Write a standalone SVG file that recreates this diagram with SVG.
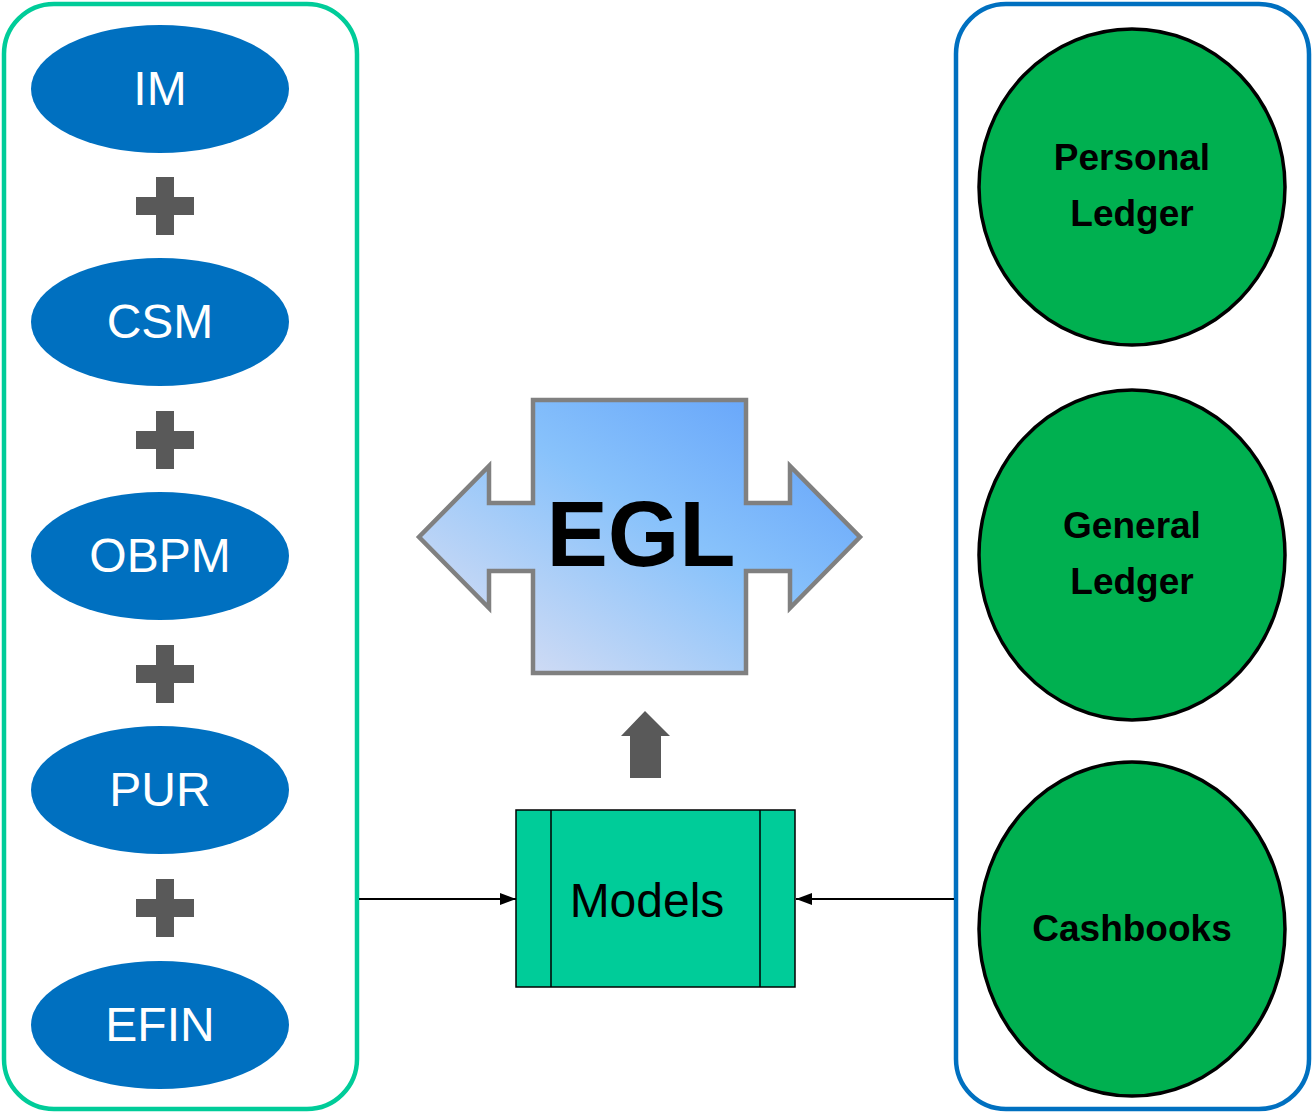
<svg xmlns="http://www.w3.org/2000/svg" width="1312" height="1112" viewBox="0 0 1312 1112">
<style>
.oval{fill:#0070c0}
.ot{font-family:"Liberation Sans",Arial,sans-serif;font-size:48px;fill:#fff;text-anchor:middle}
.plus{fill:#595959}
.circ{fill:#00b050;stroke:#000;stroke-width:3.5}
.ct{font-family:"Liberation Sans",Arial,sans-serif;font-size:37px;font-weight:bold;fill:#000;text-anchor:middle}
.conn{stroke:#000;stroke-width:2;fill:none;marker-end:url(#ah)}
</style>
<defs>
<marker id="ah" markerWidth="16" markerHeight="12" refX="16" refY="6" orient="auto" markerUnits="userSpaceOnUse">
<path d="M0,0 L16,6 L0,12 Z" fill="#000"/>
</marker>
<linearGradient id="eg" x1="0" y1="1" x2="1" y2="0">
<stop offset="0" stop-color="#e4e2f2"/>
<stop offset="0.55" stop-color="#88c2fb"/>
<stop offset="1" stop-color="#5d9dfa"/>
</linearGradient>
<path id="pl" d="M-9,-29 H9 V-9 H29 V9 H9 V29 H-9 V9 H-29 V-9 H-9 Z"/>
</defs>

<g id="left-container">
<rect x="4" y="4" width="353" height="1105" rx="50" ry="50" fill="none" stroke="#00cc99" stroke-width="4.5"/>
</g>
<g id="right-container">
<rect x="956" y="4" width="353" height="1105" rx="50" ry="50" fill="none" stroke="#0070c0" stroke-width="4.5"/>
</g>

<g id="IM"><ellipse class="oval" cx="160" cy="89" rx="129" ry="64"/><text class="ot" x="160" y="105">IM</text></g>
<g id="CSM"><ellipse class="oval" cx="160" cy="322" rx="129" ry="64"/><text class="ot" x="160" y="338">CSM</text></g>
<g id="OBPM"><ellipse class="oval" cx="160" cy="556" rx="129" ry="64"/><text class="ot" x="160" y="572">OBPM</text></g>
<g id="PUR"><ellipse class="oval" cx="160" cy="790" rx="129" ry="64"/><text class="ot" x="160" y="806">PUR</text></g>
<g id="EFIN"><ellipse class="oval" cx="160" cy="1025" rx="129" ry="64"/><text class="ot" x="160" y="1041">EFIN</text></g>

<g id="plus-signs" class="plus">
<use href="#pl" x="165" y="206"/>
<use href="#pl" x="165" y="440"/>
<use href="#pl" x="165" y="674"/>
<use href="#pl" x="165" y="908"/>
</g>

<g id="personal-ledger"><ellipse class="circ" cx="1132" cy="187" rx="153" ry="158"/><text class="ct" x="1132" y="170">Personal</text><text class="ct" x="1132" y="226">Ledger</text></g>
<g id="general-ledger"><ellipse class="circ" cx="1132" cy="555" rx="153" ry="165"/><text class="ct" x="1132" y="538">General</text><text class="ct" x="1132" y="594">Ledger</text></g>
<g id="cashbooks"><ellipse class="circ" cx="1132" cy="929" rx="153" ry="167"/><text class="ct" x="1132" y="941">Cashbooks</text></g>

<g id="EGL">
<path d="M533,400 H746 V503 H790 V466 L860,537 L790,608 V571 H746 V673 H533 V571 H489 V608 L419,537 L489,466 V503 H533 Z" fill="url(#eg)" stroke="#808080" stroke-width="4.5" stroke-linejoin="miter"/>
<text x="641" y="566" font-family="Liberation Sans,Arial,sans-serif" font-size="92" font-weight="bold" text-anchor="middle" fill="#000">EGL</text>
</g>

<g id="up-arrow">
<path d="M645,711 L670,736 H661 V778 H630 V736 H621 Z" fill="#595959"/>
</g>

<g id="Models">
<rect x="516" y="810" width="279" height="177" fill="#00cc99" stroke="#000" stroke-width="1.5"/>
<line x1="551" y1="810" x2="551" y2="987" stroke="#000" stroke-width="1.5"/>
<line x1="760" y1="810" x2="760" y2="987" stroke="#000" stroke-width="1.5"/>
<text x="647" y="917" font-family="Liberation Sans,Arial,sans-serif" font-size="48" text-anchor="middle" fill="#000">Models</text>
</g>

<g id="connectors">
<line class="conn" x1="359" y1="899" x2="516" y2="899"/>
<line class="conn" x1="954" y1="899" x2="796" y2="899"/>
</g>
</svg>
